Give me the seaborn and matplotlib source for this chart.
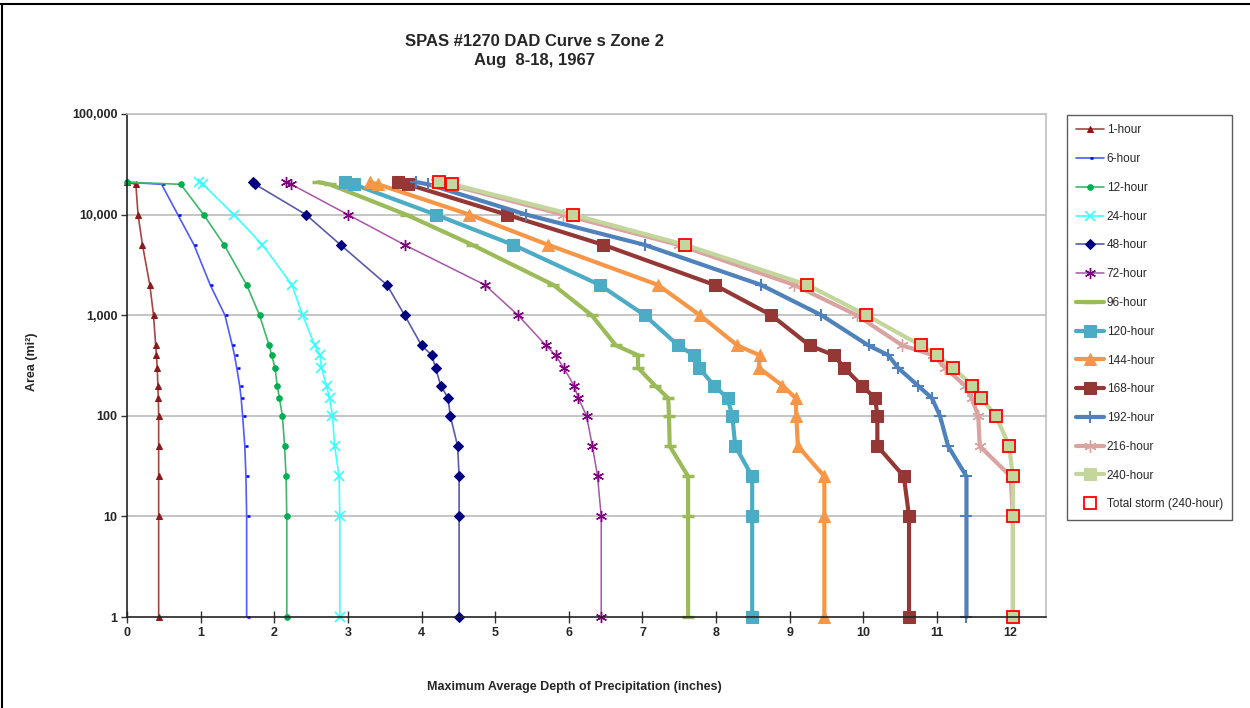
import matplotlib
matplotlib.use("Agg")
import matplotlib.pyplot as plt
from matplotlib.path import Path
from matplotlib.ticker import FixedLocator, FuncFormatter, NullLocator
import numpy as np
import pandas as pd
import seaborn as sns

# Depth-area-duration values: area (sq mi) and max average depth (inches)
areas = [21000, 20000, 10000, 5000, 2000, 1000, 500, 400, 300, 200, 150, 100, 50, 25, 10, 1]

depth_1h = [0.0, 0.12, 0.15, 0.21, 0.31, 0.36, 0.39, 0.40, 0.41, 0.42, 0.425, 0.43, 0.43, 0.43, 0.43, 0.43]
depth_6h = [0.0, 0.47, 0.69, 0.91, 1.13, 1.33, 1.43, 1.46, 1.49, 1.53, 1.55, 1.57, 1.60, 1.615, 1.625, 1.625]
depth_12h = [0.0, 0.73, 1.04, 1.32, 1.625, 1.80, 1.93, 1.965, 2.01, 2.04, 2.07, 2.11, 2.14, 2.16, 2.17, 2.17]
depth_24h = [0.98, 1.03, 1.45, 1.84, 2.24, 2.385, 2.55, 2.62, 2.64, 2.71, 2.75, 2.79, 2.82, 2.88, 2.89, 2.89]
depth_48h = [1.71, 1.74, 2.43, 2.90, 3.53, 3.77, 4.00, 4.14, 4.19, 4.26, 4.36, 4.39, 4.49, 4.51, 4.51, 4.51]
depth_72h = [2.16, 2.23, 3.00, 3.77, 4.86, 5.31, 5.69, 5.82, 5.93, 6.07, 6.13, 6.24, 6.32, 6.39, 6.44, 6.44]
depth_96h = [2.60, 2.75, 3.79, 4.69, 5.79, 6.31, 6.64, 6.94, 6.94, 7.17, 7.35, 7.36, 7.37, 7.62, 7.62, 7.62]
depth_120h = [2.96, 3.08, 4.19, 5.245, 6.42, 7.03, 7.485, 7.70, 7.77, 7.97, 8.155, 8.22, 8.26, 8.49, 8.49, 8.49]
depth_144h = [3.30, 3.41, 4.65, 5.72, 7.21, 7.78, 8.29, 8.59, 8.58, 8.90, 9.08, 9.09, 9.11, 9.47, 9.47, 9.47]
depth_168h = [3.675, 3.81, 5.155, 6.47, 7.98, 8.75, 9.27, 9.60, 9.74, 9.975, 10.16, 10.19, 10.19, 10.55, 10.62, 10.62]
depth_192h = [3.93, 4.09, 5.42, 7.03, 8.61, 9.43, 10.07, 10.34, 10.47, 10.74, 10.93, 11.04, 11.15, 11.40, 11.40, 11.40]
depth_216h = [4.20, 4.36, 5.92, 7.49, 9.06, 9.91, 10.53, 10.95, 11.11, 11.38, 11.47, 11.56, 11.58, 12.00, 12.03, 12.03]
depth_240h = [4.24, 4.42, 6.05, 7.58, 9.24, 10.04, 10.78, 11.00, 11.22, 11.48, 11.60, 11.80, 11.98, 12.03, 12.03, 12.03]
total_storm = [4.24, 4.42, 6.05, 7.58, 9.24, 10.04, 10.78, 11.00, 11.22, 11.48, 11.60, 11.80, 11.98, 12.03, 12.03, 12.03]

x_ticks = list(range(0, 13))
y_ticks = [1, 10, 100, 1000, 10000, 100000]

title_lines = ["SPAS #1270 DAD Curve s Zone 2", "Aug  8-18, 1967"]
x_title = "Maximum Average Depth of Precipitation (inches)"
y_title = "Area (mi\u00b2)"

# marker shapes
dash_right = Path([(0.0, 0.0), (1.0, 0.0)], [Path.MOVETO, Path.LINETO])
asterisk = (6, 2, 0)

series = [
    ("1-hour", depth_1h, dict(color="#A84444", lw=1.2, marker="^", ms=4.5, mfc="#8B1A1A", mec="#8B1A1A")),
    ("6-hour", depth_6h, dict(color="#4D5BFF", lw=1.2, marker=dash_right, ms=5, mec="#0000FF", mew=1.8)),
    ("12-hour", depth_12h, dict(color="#3DB86B", lw=1.2, marker="o", ms=4, mfc="#00B050", mec="#00B050")),
    ("24-hour", depth_24h, dict(color="#40FFFF", lw=1.2, marker="x", ms=7, mec="#33FFFF", mew=1.2)),
    ("48-hour", depth_48h, dict(color="#5A5AAA", lw=1.2, marker="D", ms=5, mfc="#000080", mec="#000080")),
    ("72-hour", depth_72h, dict(color="#A855A8", lw=1.1, marker=asterisk, ms=8, mec="#800080", mew=1.0)),
    ("96-hour", depth_96h, dict(color="#9BBB59", lw=3.0, marker="_", ms=9, mec="#9BBB59", mew=2.5)),
    ("120-hour", depth_120h, dict(color="#4BACC6", lw=3.0, marker="s", ms=8, mfc="#4BACC6", mec="#4BACC6")),
    ("144-hour", depth_144h, dict(color="#F79646", lw=3.0, marker="^", ms=9, mfc="#F79646", mec="#F79646")),
    ("168-hour", depth_168h, dict(color="#953735", lw=3.0, marker="s", ms=8, mfc="#953735", mec="#953735")),
    ("192-hour", depth_192h, dict(color="#4F81BD", lw=3.0, marker="+", ms=9, mec="#4F81BD", mew=1.5)),
    ("216-hour", depth_216h, dict(color="#D9A3A2", lw=3.0, marker=asterisk, ms=9, mec="#D9A3A2", mew=1.0)),
    ("240-hour", depth_240h, dict(color="#C3D69B", lw=3.0, marker="s", ms=8, mfc="#C3D69B", mec="#C3D69B")),
]

sns.set_theme(style="white")
plt.rcParams["font.family"] = ["Liberation Sans", "DejaVu Sans"]

fig = plt.figure(figsize=(12.5, 7.08), dpi=100)
ax = fig.add_axes([127 / 1250, 1 - 617 / 708, (1046 - 127) / 1250, (617 - 114) / 708])
ax.set_yscale("log")

for name, vals, style in series:
    df = pd.DataFrame({"depth": vals, "area": areas})
    sns.lineplot(data=df, x="depth", y="area", orient="y", ax=ax, label=name,
                 clip_on=False, **style)

df_total = pd.DataFrame({"depth": total_storm, "area": areas})
sns.lineplot(data=df_total, x="depth", y="area", orient="y", ax=ax,
             label="Total storm (240-hour)", linestyle="none", marker="s", ms=8,
             mfc="none", mec="#FF0000", mew=1.3, clip_on=False)

if ax.get_legend() is not None:
    ax.get_legend().remove()

ax.set_xlim(0, 12.48)
ax.set_ylim(1, 100000)
ax.xaxis.set_major_locator(FixedLocator(x_ticks))
ax.yaxis.set_major_locator(FixedLocator(y_ticks))
ax.yaxis.set_minor_locator(NullLocator())
ax.yaxis.set_major_formatter(FuncFormatter(lambda v, p: f"{int(round(v)):,}"))
ax.set_xlabel("")
ax.set_ylabel("")

for v in y_ticks[1:]:
    ax.axhline(v, color="#C0C0C0", lw=1.3, zorder=0)

ax.tick_params(axis="x", direction="inout", length=8, width=1, color="#333333",
               labelsize=9, pad=3, bottom=True)
ax.tick_params(axis="y", direction="out", length=4, width=1, color="#333333",
               labelsize=9, pad=3, left=True)
for lbl in ax.get_xticklabels() + ax.get_yticklabels():
    lbl.set_fontweight("bold")

for side in ["left", "bottom"]:
    ax.spines[side].set_color("#222222")
    ax.spines[side].set_linewidth(1.2)
for side in ["right", "top"]:
    ax.spines[side].set_color("#C0C0C0")
    ax.spines[side].set_linewidth(1.2)

title_family = ["Liberation Sans Narrow", "Liberation Sans", "DejaVu Sans"]
fig.text(534 / 1250, 1 - 42 / 708, title_lines[0], ha="center", va="center",
         fontsize=12, fontweight="bold", family=title_family)
fig.text(534 / 1250, 1 - 60 / 708, title_lines[1], ha="center", va="center",
         fontsize=12, fontweight="bold", family=title_family)
fig.text(574 / 1250, 1 - 687 / 708, x_title, ha="center", va="center",
         fontsize=9, fontweight="bold")
fig.text(32 / 1250, 1 - 362 / 708, y_title, ha="center", va="center",
         fontsize=9, fontweight="bold", rotation=90)

handles, labels = ax.get_legend_handles_labels()
leg = fig.legend(handles, labels, loc="upper left", bbox_to_anchor=(1067 / 1250, 1 - 115 / 708),
                 frameon=True, fancybox=False, fontsize=8.5, numpoints=1,
                 handlelength=2.35, handletextpad=0.2, labelspacing=1.42,
                 borderpad=0.8, borderaxespad=0)
leg.get_frame().set_edgecolor("#333333")
leg.get_frame().set_linewidth(1.0)

# chart-area border
fig.add_artist(plt.Line2D([0, 1], [1 - 4 / 708, 1 - 4 / 708], transform=fig.transFigure,
                          color="black", lw=1.5))
fig.add_artist(plt.Line2D([2 / 1250, 2 / 1250], [0, 1 - 4 / 708], transform=fig.transFigure,
                          color="black", lw=1.5))

fig.savefig("out.png", dpi=100, facecolor="white")
